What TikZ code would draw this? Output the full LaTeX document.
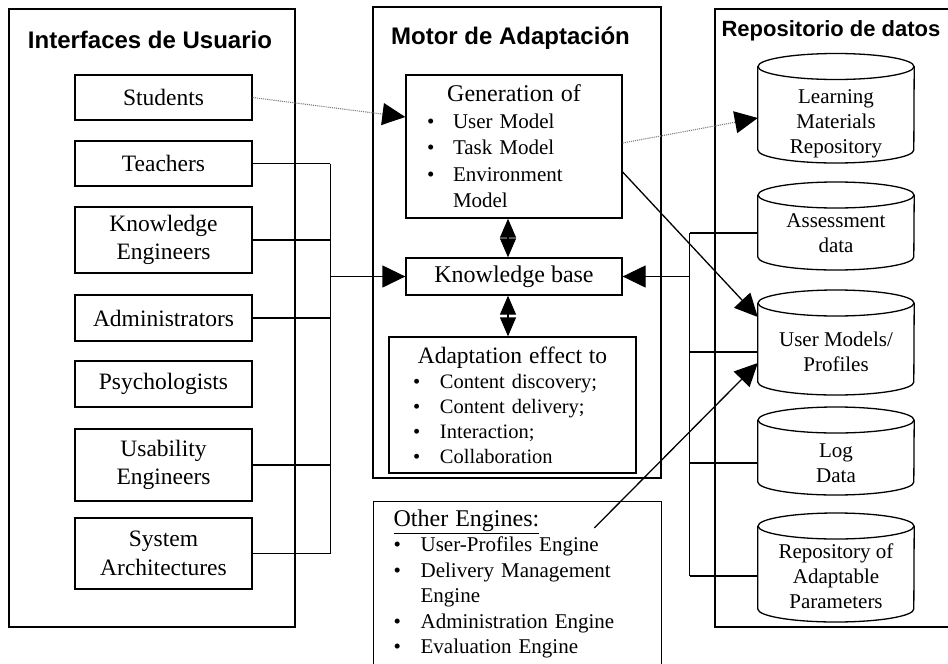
\documentclass[tikz,border=0pt]{standalone}
\usepackage{fontspec}
\setmainfont{Liberation Serif}
\newfontfamily\headfont{Liberation Sans}
\usetikzlibrary{arrows.meta,positioning}

\newlength{\bulpos}
\newlength{\bulind}
\newcommand{\bul}[1]{\par\hangindent=\bulind\hangafter=1\noindent\makebox[\bulind][l]{\hspace*{\bulpos}\textbullet}#1}

\tikzset{
  panel/.style={line width=1.4pt},
  ubox/.style={draw, line width=1.3pt, minimum width=177pt, align=center, inner sep=3pt,
    font=\fontsize{23.5}{28.5}\selectfont},
  title/.style={font=\headfont\bfseries\fontsize{24}{28}\selectfont, inner sep=0pt},
  lbox/.style={draw, line width=1.3pt, align=left, inner xsep=4pt, inner ysep=3pt},
  cyl/.style={minimum width=156pt, align=center, inner sep=0pt, font=\fontsize{21}{25}\selectfont},
  conn/.style={line width=1.3pt},
  arr/.style={conn, -{Triangle[length=23pt,width=22pt]}},
  dots/.style={densely dotted, line width=1.1pt, gray, -{Triangle[length=23pt,width=22pt,color=black]}},
  dia/.style={conn, {Triangle[length=19pt,width=16pt]}-{Triangle[length=19pt,width=16pt]}}
}

\begin{document}
\begin{tikzpicture}[x=1pt,y=-1pt]
    \clip (0,0) rectangle (948,664);
    % panels
    \draw[panel] (9,9) rectangle (295,627);
    \draw[panel] (373,7) rectangle (661,478);
    \draw[panel] (715,9) rectangle (960,627);
    \node[title] (ttlui) at (150,40) {Interfaces de Usuario};
    \node[title] (ttlma) at (510.5,38) {Motor de Adaptación};
    \node[title, font=\headfont\bfseries\fontsize{22}{26}\selectfont] (ttlrd) at (831,31) {Repositorio de datos};

    % user interfaces
    \foreach \nm/\yc/\hh/\txt in {stu/97.5/45/Students, tea/163.5/45/Teachers,
        ken/240/66/{Knowledge\\Engineers}, adm/318/46/Administrators,
        psy/384/46/Psychologists, usa/465/72/{Usability\\Engineers},
        sys/553.5/71/{System\\Architectures}}
        \node[ubox, minimum height=\hh pt] (\nm) at (163.5,\yc) {\txt};

    % adaptation engine
    \node[lbox, text width=208pt, minimum height=143pt,
        font=\fontsize{21}{26.5}\selectfont,
        execute at begin node={\setlength{\bulpos}{17pt}\setlength{\bulind}{43pt}}]
        (gen) at (514,146.5)
    {{\noindent\centering\fontsize{24}{26.5}\selectfont Generation of\par}%
     \bul{User Model}\bul{Task Model}\bul{Environment\newline Model}\par};
    \node[ubox, minimum width=216pt, minimum height=37pt,
        font=\fontsize{24}{28}\selectfont] (kb) at (514,276.5) {Knowledge base};
    \node[lbox, text width=239pt, minimum height=136pt,
        font=\fontsize{20.5}{25}\selectfont,
        execute at begin node={\setlength{\bulpos}{20pt}\setlength{\bulind}{47pt}}]
        (adp) at (512.5,405)
    {{\noindent\centering\fontsize{23.5}{25}\selectfont Adaptation effect to\par}%
     \bul{Content discovery;}\bul{Content delivery;}\bul{Interaction;}\bul{Collaboration}\par};
    \node[lbox, text width=280pt, anchor=north west, inner ysep=8pt,
        font=\fontsize{21}{25.5}\selectfont,
        execute at begin node={\setlength{\bulpos}{16pt}\setlength{\bulind}{43pt}}]
        (oth) at (373,501)
    {\noindent\hspace*{\bulpos}{\fontsize{24}{25.5}\selectfont\underline{Other Engines:}}%
     \bul{User-Profiles Engine}\bul{Delivery Management\newline Engine}%
     \bul{Administration Engine}\bul{Evaluation Engine}\par};

    % data repositories
    \foreach \nm/\yc/\yup/\ydn/\txt in {lmr/124/57.5/26/{Learning\\Materials\\Repository},
        asd/233/38/24/{Assessment\\data}, umo/352/49/30/{User Models/\\Profiles},
        log/463/43/19/{Log\\Data}, rap/576/50/33/{Repository of\\Adaptable\\Parameters}}{
        \node[cyl] (\nm) at (836,\yc) {\txt};
        \draw[conn] ([yshift=\yup pt]\nm.west) -- ([yshift=-\ydn pt]\nm.west)
            arc[start angle=180, end angle=360, x radius=78pt, y radius=13pt]
            -- ([yshift=\yup pt]\nm.east);
        \draw[conn] ([yshift=\yup pt]\nm.center) ellipse[x radius=78pt, y radius=13pt];
    }

    % connectors
    \draw[dots] (stu.east) -- ([yshift=29.5pt]gen.west);
    \draw[dots] ([yshift=3.5pt]gen.east) -- ([yshift=6pt]lmr.west);
    \draw[arr] ([yshift=-25.5pt]gen.east) -- ([yshift=35pt]umo.west);
    \coordinate (oeng) at ([shift={(-68pt,-27pt)}]oth.north east);
    \draw[arr] (oeng) -- ([yshift=-11pt]umo.west);

    \coordinate (lbus) at ([xshift=-75pt]kb.west);
    \foreach \bx in {tea,ken,adm,usa,sys}
        \draw[conn] (\bx.east) -- (\bx.east -| lbus);
    \draw[conn] (tea.east -| lbus) -- (sys.east -| lbus);
    \draw[arr] (lbus) -- (kb.west);

    \coordinate (rbus) at ([xshift=67pt]kb.east);
    \foreach \cy in {asd,umo,log,rap}
        \draw[conn] (\cy.west) -- (\cy.west -| rbus);
    \draw[conn] (asd.west -| rbus) -- (rap.west -| rbus);
    \draw[arr] (rbus) -- (kb.east);

    \draw[dia] ([xshift=-6pt]gen.south) -- ([xshift=-6pt]kb.north);
    \draw[dia] ([xshift=-6pt]kb.south) -- ([xshift=-6pt]kb.south |- adp.north);
\end{tikzpicture}
\end{document}
